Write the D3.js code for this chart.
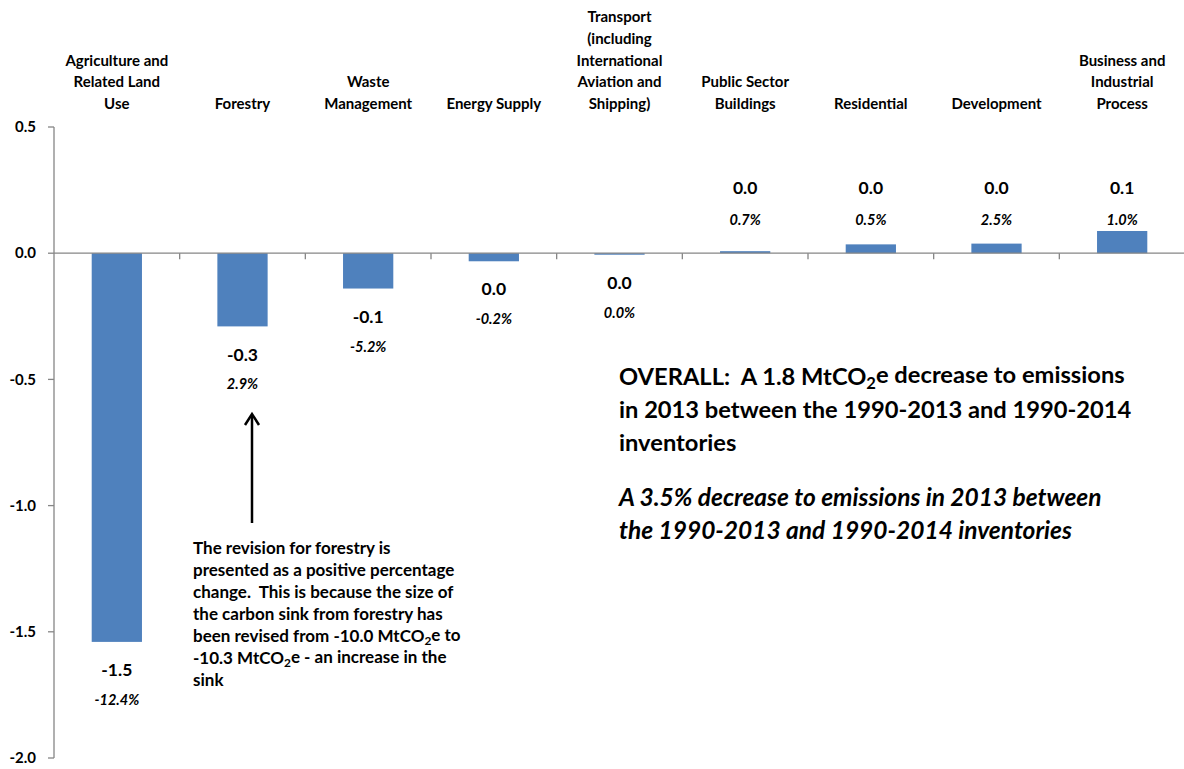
<!DOCTYPE html>
<html>
<head>
<meta charset="utf-8">
<script src="https://cdn.jsdelivr.net/npm/d3@7"></script>
<style>
  body { margin: 0; background: #fff; }
  svg text { font-family: Lato, "Open Sans", sans-serif; fill: #000; }
</style>
</head>
<body>
<div id="chart"></div>
<script>
// revisions in 2013 emissions, MtCO2e, by sector
var categories = [
    ["Agriculture and", "Related Land", "Use"],
    ["Forestry"],
    ["Waste", "Management"],
    ["Energy Supply"],
    ["Transport", "(including", "International", "Aviation and", "Shipping)"],
    ["Public Sector", "Buildings"],
    ["Residential"],
    ["Development"],
    ["Business and", "Industrial", "Process"]
];
var values = [-1.54, -0.29, -0.14, -0.032, -0.006, 0.008, 0.035, 0.038, 0.088];
var pctChange = [-12.4, 2.9, -5.2, -0.2, 0.0, 0.7, 0.5, 2.5, 1.0];
var yTicks = [0.5, 0.0, -0.5, -1.0, -1.5, -2.0];

var width = 1184, height = 769;
var axisColor = "#868686", barColor = "#4F81BD";

var svg = d3.select("#chart").append("svg")
    .attr("width", width)
    .attr("height", height);

var idx = d3.range(categories.length);
var xScale = d3.scaleBand().domain(idx).range([54, 1185]).padding(0);
var yScale = d3.scaleLinear().domain([-2, 0.5]).range([758, 127]);
var bw = xScale.bandwidth();

// y axis
svg.append("line")
    .attr("x1", 54).attr("x2", 54)
    .attr("y1", yScale(0.5)).attr("y2", yScale(-2))
    .attr("stroke", axisColor).attr("stroke-width", 1.3);

svg.selectAll(".ytick")
    .data(yTicks)
    .join("line")
    .attr("x1", 48).attr("x2", 54)
    .attr("y1", d => yScale(d)).attr("y2", d => yScale(d))
    .attr("stroke", axisColor).attr("stroke-width", 1.3);

svg.selectAll(".ylab")
    .data(yTicks)
    .join("text")
    .attr("x", 36)
    .attr("y", d => yScale(d))
    .attr("dy", "0.35em")
    .attr("text-anchor", "end")
    .style("font-size", "15px")
    .style("font-weight", "bold")
    .text(d => d.toFixed(1));

// bars
svg.selectAll(".bar")
    .data(idx)
    .join("rect")
    .attr("x", i => xScale(i) + bw * 0.3)
    .attr("width", bw * 0.4)
    .attr("y", i => yScale(Math.max(0, values[i])))
    .attr("height", i => Math.abs(yScale(values[i]) - yScale(0)))
    .attr("fill", barColor);

// category axis along zero
svg.append("line")
    .attr("x1", 54).attr("x2", width)
    .attr("y1", yScale(0)).attr("y2", yScale(0))
    .attr("stroke", axisColor).attr("stroke-width", 1.3);

svg.selectAll(".xtick")
    .data(idx.slice(1))
    .join("line")
    .attr("x1", i => xScale(i)).attr("x2", i => xScale(i))
    .attr("y1", yScale(0)).attr("y2", yScale(0) + 6)
    .attr("stroke", axisColor).attr("stroke-width", 1.3);

// category labels at top, bottom-aligned
idx.forEach(function(i) {
    var lines = categories[i];
    var t = svg.append("text")
        .attr("text-anchor", "middle")
        .style("font-size", "15px")
        .style("font-weight", "bold");
    lines.forEach(function(l, k) {
        t.append("tspan")
            .attr("x", xScale(i) + bw / 2)
            .attr("y", 109 - (lines.length - 1 - k) * 21.7)
            .text(l);
    });
});

// value + percentage labels
function fmt(v) { return Math.abs(v) < 0.05 ? "0.0" : v.toFixed(1); }
idx.forEach(function(i) {
    var v = values[i], cx = xScale(i) + bw / 2, ly, py;
    if (v < 0) {
        ly = yScale(v) + 28;
        py = yScale(v) + 58;
    } else {
        ly = yScale(0.26);
        py = yScale(0.13);
    }
    svg.append("text")
        .attr("x", cx).attr("y", ly).attr("dy", "0.35em")
        .attr("text-anchor", "middle")
        .style("font-size", "17.5px").style("font-weight", "bold")
        .text(fmt(v));
    svg.append("text")
        .attr("x", cx).attr("y", py).attr("dy", "0.35em")
        .attr("text-anchor", "middle")
        .style("font-size", "14.5px").style("font-weight", "bold").style("font-style", "italic")
        .text(pctChange[i].toFixed(1) + "%");
});

// helper for lines with MtCO2e subscript
function richLine(sel, x, y, parts) {
    var t = sel.append("text").attr("x", x).attr("y", y);
    parts.forEach(function(p) {
        if (typeof p === "string") {
            t.append("tspan").text(p);
        } else {
            t.append("tspan").attr("dy", "0.25em").style("font-size", "0.7em").text(p.sub);
            t.append("tspan").attr("dy", "-0.25em").text(p.after);
        }
    });
    return t;
}

// overall annotation
var ov = svg.append("g").style("font-size", "23.7px").style("font-weight", "bold");
richLine(ov, 619, 385, ["OVERALL:\u00a0\u00a0A 1.8 MtCO", {sub: "2", after: "e decrease to emissions"}]);
richLine(ov, 619, 418, ["in 2013 between the 1990-2013 and 1990-2014"]);
richLine(ov, 619, 451, ["inventories"]);
richLine(ov, 619, 506, ["A 3.5% decrease to emissions in 2013 between"]).style("font-style", "italic").style("font-size", "24.5px");
richLine(ov, 619, 539, ["the 1990-2013 and 1990-2014 inventories"]).style("font-style", "italic").style("font-size", "24.5px");

// forestry note
var note = svg.append("g").style("font-size", "17px").style("font-weight", "bold");
richLine(note, 193, 554, ["The revision for forestry is"]);
richLine(note, 193, 576, ["presented as a positive percentage"]);
richLine(note, 193, 598, ["change.\u00a0\u00a0This is because the size of"]);
richLine(note, 193, 620, ["the carbon sink from forestry has"]);
richLine(note, 193, 642, ["been revised from -10.0 MtCO", {sub: "2", after: "e to"}]);
richLine(note, 193, 664, ["-10.3 MtCO", {sub: "2", after: "e - an increase in the"}]);
richLine(note, 193, 686, ["sink"]);

// arrow
svg.append("line")
    .attr("x1", 252).attr("x2", 252).attr("y1", 523).attr("y2", 416)
    .attr("stroke", "#000").attr("stroke-width", 2.5);
svg.append("path")
    .attr("d", "M245,425 L252,414 L259,425")
    .attr("fill", "none").attr("stroke", "#000").attr("stroke-width", 2.5);
</script>
</body>
</html>
